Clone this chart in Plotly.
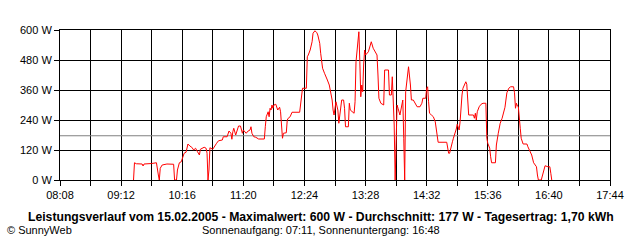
import plotly.graph_objects as go

day = "2005-02-15"

times = [
    "09:25", "09:26", "09:28", "09:34", "09:35", "09:36", "09:44", "09:49", "09:51", "09:52",
    "09:53", "09:55", "10:00", "10:07", "10:08", "10:10", "10:11", "10:13", "10:15", "10:16",
    "10:18", "10:20", "10:21", "10:22", "10:24", "10:26", "10:28", "10:30", "10:32", "10:34",
    "10:35", "10:39", "10:41", "10:42", "10:43", "10:44", "10:45", "10:48", "10:52", "10:54",
    "10:58", "10:59", "11:03", "11:04", "11:05", "11:07", "11:08", "11:09", "11:10", "11:12",
    "11:14", "11:15", "11:17", "11:19", "11:20", "11:23", "11:25", "11:27", "11:28", "11:29",
    "11:31", "11:33", "11:36", "11:42", "11:43", "11:44", "11:46", "11:47", "11:48", "11:49",
    "11:50", "11:51", "11:52", "11:54", "11:56", "11:57", "11:58", "11:59", "12:00", "12:01",
    "12:02", "12:05", "12:06", "12:07", "12:09", "12:11", "12:19", "12:20", "12:22", "12:26",
    "12:27", "12:28", "12:30", "12:32", "12:33", "12:35", "12:37", "12:38", "12:40", "12:41",
    "12:42", "12:43", "12:45", "12:47", "12:48", "12:50", "12:51", "12:53", "12:54", "12:55",
    "12:57", "12:58", "12:59", "13:00", "13:02", "13:03", "13:05", "13:06", "13:07", "13:10",
    "13:11", "13:12", "13:16", "13:17", "13:18", "13:20", "13:21", "13:22", "13:23", "13:24",
    "13:25", "13:26", "13:27", "13:28", "13:30", "13:31", "13:33", "13:34", "13:36", "13:40",
    "13:41", "13:42", "13:44", "13:47", "13:48", "13:52", "13:53", "13:55", "13:56", "13:57",
    "13:58", "13:59", "14:00", "14:01", "14:02", "14:04", "14:06", "14:07", "14:08", "14:09",
    "14:10", "14:12", "14:13", "14:15", "14:16", "14:18", "14:20", "14:22", "14:25", "14:27",
    "14:28", "14:31", "14:32", "14:33", "14:34", "14:35", "14:37", "14:39", "14:41", "14:42",
    "14:43", "14:44", "14:53", "14:54", "14:55", "14:56", "14:57", "14:59", "15:00", "15:02",
    "15:03", "15:04", "15:05", "15:06", "15:07", "15:08", "15:09", "15:10", "15:12", "15:13",
    "15:14", "15:15", "15:16", "15:21", "15:22", "15:23", "15:24", "15:25", "15:27", "15:29",
    "15:31", "15:34", "15:35", "15:36", "15:38", "15:39", "15:40", "15:44", "15:45", "15:47",
    "15:49", "15:51", "15:52", "15:54", "15:55", "15:56", "15:58", "16:00", "16:03", "16:04",
    "16:05", "16:06", "16:07", "16:08", "16:10", "16:11", "16:13", "16:17", "16:18", "16:20",
    "16:22", "16:24", "16:27", "16:28", "16:29", "16:32", "16:34", "16:36", "16:39", "16:41",
    "16:42", "16:43",
]

watts = [
    0, 69, 65, 64, 56, 64, 66, 69, 20, 0,
    47, 60, 64, 63, 0, 0, 40, 69, 73, 83,
    107, 111, 123, 144, 136, 131, 120, 127, 113, 100,
    123, 131, 127, 107, 0, 40, 129, 123, 147, 157,
    160, 173, 173, 187, 196, 187, 163, 193, 207, 180,
    200, 216, 216, 187, 200, 187, 196, 200, 213, 187,
    173, 171, 164, 164, 213, 253, 273, 253, 287, 280,
    300, 287, 300, 303, 280, 287, 291, 273, 187, 167,
    187, 189, 240, 247, 253, 271, 271, 313, 367, 367,
    493, 500, 520, 553, 587, 597, 589, 580, 547, 507,
    467, 447, 427, 411, 400, 380, 360, 320, 280, 260,
    313, 300, 280, 227, 293, 320, 320, 287, 213, 213,
    307, 280, 267, 313, 473, 553, 593, 473, 333, 380,
    353, 460, 520, 500, 507, 513, 540, 553, 527, 500,
    420, 327, 307, 300, 440, 440, 340, 340, 413, 300,
    220, 0, 220, 300, 287, 260, 300, 320, 167, 0,
    353, 440, 453, 380, 320, 320, 307, 293, 293, 307,
    327, 327, 367, 373, 313, 267, 260, 253, 233, 207,
    173, 151, 151, 127, 107, 107, 127, 153, 167, 187,
    204, 223, 213, 200, 233, 300, 340, 367, 387, 393,
    383, 327, 260, 260, 247, 267, 240, 273, 293, 303,
    307, 307, 167, 147, 127, 93, 69, 69, 140, 187,
    227, 247, 260, 291, 320, 349, 367, 373, 373, 349,
    287, 307, 296, 293, 207, 167, 144, 144, 133, 113,
    100, 69, 53, 20, 0, 0, 29, 57, 53, 53,
    27, 0,
]

avg_w = 177
tick_times = ["08:08", "08:40", "09:12", "09:44", "10:16", "10:48", "11:20", "11:52",
              "12:24", "12:56", "13:28", "14:00", "14:32", "15:04", "15:36", "16:08",
              "16:40", "17:12", "17:44"]
tick_labels = ["08:08", "", "09:12", "", "10:16", "", "11:20", "", "12:24", "",
               "13:28", "", "14:32", "", "15:36", "", "16:40", "", "17:44"]
y_ticks = [0, 120, 240, 360, 480, 600]
y_labels = ["0 W", "120 W", "240 W", "360 W", "480 W", "600 W"]

title_text = ("Leistungsverlauf vom 15.02.2005 - Maximalwert: 600 W - "
              "Durchschnitt: 177 W - Tagesertrag: 1,70 kWh")
sun_text = "Sonnenaufgang: 07:11, Sonnenuntergang: 16:48"
credit_text = "© SunnyWeb"

x = [f"{day} {t}:00" for t in times]
xt = [f"{day} {t}:00" for t in tick_times]
x0, x1 = xt[0], xt[-1]

fig = go.Figure()
fig.add_trace(go.Scatter(x=[x0, x1], y=[avg_w, avg_w], mode="lines",
                         line=dict(color="#808080", width=1), hoverinfo="skip"))
fig.add_trace(go.Scatter(x=x, y=watts, mode="lines",
                         line=dict(color="#ff0000", width=1)))

font = "Liberation Sans, Arial, sans-serif"
fig.update_layout(
    width=640, height=240,
    margin=dict(l=60, r=30, t=30, b=60),
    paper_bgcolor="white", plot_bgcolor="white",
    showlegend=False,
    font=dict(family=font, size=11, color="black"),
    xaxis=dict(type="date", range=[x0, x1], tickvals=xt, ticktext=tick_labels,
               showgrid=True, gridcolor="black", gridwidth=1,
               ticks="outside", ticklen=5, tickcolor="black", tickwidth=1,
               showline=True, linecolor="black", linewidth=1, mirror=True,
               zeroline=False, tickfont=dict(size=11)),
    yaxis=dict(range=[0, 600], tickvals=y_ticks, ticktext=y_labels,
               showgrid=True, gridcolor="black", gridwidth=1,
               ticks="outside", ticklen=5, tickcolor="black", tickwidth=1,
               showline=True, linecolor="black", linewidth=1, mirror=True,
               zeroline=False, tickfont=dict(size=11)),
)

fig.add_annotation(text=f"<b>{title_text}</b>", xref="paper", yref="paper",
                   x=(320.5 - 60) / 550, y=(180 - 217) / 150,
                   xanchor="center", yanchor="middle", showarrow=False,
                   font=dict(family=font, size=12.2, color="black"))
fig.add_annotation(text=sun_text, xref="paper", yref="paper",
                   x=(320.5 - 60) / 550, y=(180 - 229.5) / 150,
                   xanchor="center", yanchor="middle", showarrow=False,
                   font=dict(family=font, size=11, color="black"))
fig.add_annotation(text=credit_text, xref="paper", yref="paper",
                   x=(5 - 60) / 550, y=(180 - 229.5) / 150,
                   xanchor="left", yanchor="middle", showarrow=False,
                   font=dict(family=font, size=11, color="black"))

fig.write_html("out.html")
